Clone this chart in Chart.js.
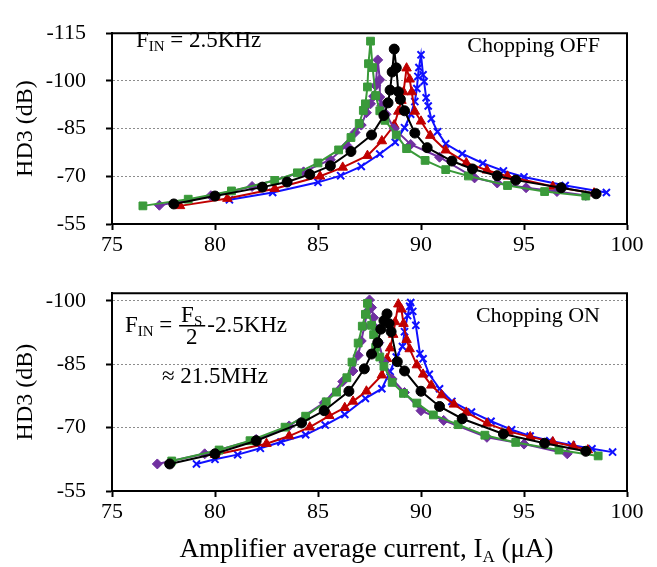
<!DOCTYPE html>
<html lang="en">
<head>
<meta charset="UTF-8">
<title>HD3 vs amplifier current</title>
<script src="https://cdn.jsdelivr.net/npm/chart.js"></script>
<style>
  body { margin: 0; background: #fff; }
  #wrap { position: relative; width: 657px; height: 567px; }
  canvas { position: absolute; left: 0; }
  #offChart { top: 0; }
  #onChart { top: 260px; }
</style>
</head>
<body>
<div id="wrap">
  <canvas id="offChart" width="657" height="260"></canvas>
  <canvas id="onChart" width="657" height="307"></canvas>
</div>
<script>
const SERIF = "'Liberation Serif', 'Times New Roman', serif";

// axis ticks
const currentTicks = [75, 80, 85, 90, 95, 100];
const offHd3Ticks = [-115, -100, -85, -70, -55];
const onHd3Ticks = [-100, -85, -70, -55];

// ---- chopping OFF (F_IN = 2.5 kHz) ----
const offGreenI = [76.5, 78.7, 80.8, 82.9, 84.0, 85.0, 86.0, 86.6, 87.0, 87.2, 87.3, 87.4, 87.45, 87.55, 87.65, 87.8, 88.0, 88.25, 88.8, 89.3, 90.2, 91.2, 92.3, 94.2, 96.0, 98.0];
const offGreenHd3 = [-60.7, -62.8, -65.4, -68.7, -71.1, -74.2, -78.3, -82.2, -86.6, -90.7, -92.8, -98.1, -105.4, -112.5, -104.2, -95.4, -90.6, -87.6, -83.0, -78.7, -75.0, -72.1, -70.1, -67.1, -65.2, -63.8];

const offPurpleI = [77.3, 79.8, 81.8, 84.3, 85.6, 86.4, 86.8, 87.1, 87.35, 87.55, 87.7, 87.8, 87.9, 88.0, 88.0, 88.1, 88.3, 88.7, 89.5, 90.9, 92.6, 93.7, 95.1, 96.6, 98.0];
const offPurpleHd3 = [-60.9, -63.9, -66.8, -71.4, -75.2, -79.7, -83.8, -86.1, -90.0, -92.8, -95.2, -98.5, -106.6, -100.4, -94.9, -92.3, -89.5, -85.0, -80.0, -76.0, -69.5, -67.9, -66.4, -65.2, -64.0];

const offBlackI = [78.0, 80.0, 82.3, 83.5, 84.6, 85.6, 86.6, 87.6, 88.2, 88.4, 88.5, 88.6, 88.7, 88.8, 88.9, 89.0, 89.2, 89.7, 90.3, 91.5, 92.5, 93.7, 94.6, 96.8, 98.5];
const offBlackHd3 = [-61.3, -63.8, -66.6, -68.2, -70.6, -73.3, -77.8, -83.0, -89.1, -93.1, -97.1, -102.8, -110.0, -104.1, -96.6, -94.2, -90.6, -83.6, -79.0, -74.8, -72.3, -70.2, -68.8, -66.4, -64.5];

const offRedI = [78.3, 80.6, 82.9, 85.1, 86.2, 87.4, 88.1, 88.7, 88.9, 89.05, 89.15, 89.3, 89.45, 89.55, 89.7, 90.0, 90.45, 91.2, 92.2, 93.2, 94.2, 96.4, 98.4];
const offRedHd3 = [-60.7, -63.0, -66.1, -70.0, -72.8, -76.5, -81.1, -86.1, -90.4, -93.8, -96.5, -104.0, -100.5, -96.5, -90.4, -87.3, -82.8, -78.2, -74.2, -71.9, -70.0, -66.8, -64.7];

const offBlueI = [80.7, 82.8, 85.0, 86.1, 87.1, 88.0, 88.75, 89.2, 89.5, 89.7, 89.8, 89.85, 89.9, 90.0, 90.1, 90.15, 90.25, 90.35, 90.5, 90.8, 91.2, 92.0, 93.0, 94.0, 95.0, 97.0, 99.0];
const offBlueHd3 = [-62.6, -64.9, -68.1, -70.2, -73.1, -77.0, -80.7, -85.3, -89.5, -93.5, -97.6, -101.4, -104.2, -108.2, -101.9, -99.8, -94.7, -92.1, -88.1, -84.0, -80.2, -77.1, -74.1, -71.7, -69.8, -67.1, -64.9];

// ---- chopping ON (F_IN = Fs/2 - 2.5 kHz) ----
const onGreenI = [77.9, 80.2, 81.7, 83.4, 84.4, 85.4, 85.9, 86.4, 86.65, 86.95, 87.15, 87.3, 87.4, 87.6, 87.7, 87.8, 88.0, 88.2, 88.6, 89.15, 89.8, 90.6, 91.8, 93.1, 94.6, 96.7, 98.6];
const onGreenHd3 = [-62.1, -64.7, -66.9, -70.1, -72.7, -76.1, -78.4, -81.8, -85.5, -90.0, -94.0, -96.8, -99.4, -94.2, -92.0, -89.0, -86.7, -84.5, -80.7, -78.1, -75.8, -73.0, -70.7, -68.2, -66.5, -64.7, -63.3];

const onPurpleI = [77.2, 79.5, 82.0, 83.6, 85.3, 86.2, 86.7, 86.95, 87.1, 87.25, 87.4, 87.5, 87.6, 87.7, 87.8, 87.95, 88.2, 88.6, 89.2, 90.0, 91.1, 93.2, 95.0, 97.1];
const onPurpleHd3 = [-61.4, -63.8, -67.2, -70.4, -75.9, -80.9, -83.4, -87.1, -90.5, -94.0, -97.5, -100.2, -98.4, -96.0, -93.5, -90.1, -85.5, -81.5, -78.3, -74.0, -71.7, -67.7, -66.1, -63.8];

const onBlackI = [77.8, 80.0, 82.0, 84.2, 85.3, 86.5, 87.25, 87.6, 87.9, 88.05, 88.2, 88.35, 88.45, 88.55, 88.85, 89.2, 90.0, 90.9, 92.0, 94.0, 96.0, 98.0];
const onBlackHd3 = [-61.4, -63.8, -66.9, -71.1, -74.0, -78.6, -83.9, -87.4, -90.1, -93.3, -95.3, -96.9, -94.6, -92.7, -85.6, -83.4, -78.6, -75.0, -72.1, -68.5, -66.3, -64.4];

const onRedI = [80.0, 82.5, 83.6, 84.6, 85.55, 86.3, 86.7, 87.35, 88.1, 88.35, 88.5, 88.65, 88.75, 88.9, 89.05, 89.15, 89.3, 89.45, 89.8, 90.1, 90.5, 91.0, 91.6, 92.2, 93.2, 94.25, 95.3, 96.4, 97.4, 98.1];
const onRedHd3 = [-63.6, -66.2, -68.0, -70.1, -72.8, -74.7, -76.2, -78.6, -82.4, -86.3, -88.8, -92.0, -95.0, -99.2, -98.0, -94.6, -90.8, -88.6, -84.8, -82.6, -80.0, -77.7, -75.5, -73.6, -71.0, -69.1, -67.8, -66.6, -65.6, -64.7];

const onBlueI = [79.1, 80.0, 81.1, 82.2, 83.2, 84.4, 85.35, 86.3, 87.3, 88.1, 88.5, 88.8, 89.1, 89.2, 89.35, 89.45, 89.5, 89.6, 89.75, 89.95, 90.1, 90.4, 90.9, 91.5, 92.45, 93.4, 94.4, 95.3, 96.25, 97.3, 98.3, 99.3];
const onBlueHd3 = [-61.4, -62.5, -63.6, -65.1, -66.6, -68.3, -70.6, -73.1, -76.9, -79.2, -83.3, -86.7, -89.2, -92.7, -96.5, -98.7, -99.6, -97.5, -94.2, -87.5, -86.3, -82.6, -79.2, -76.2, -73.7, -71.5, -69.5, -68.0, -66.9, -65.9, -65.0, -64.2];

// marker look per curve
const looks = {
  black:  { color: '#000000', style: 'circle',   radius: 5 },
  green:  { color: '#3a9a3a', style: 'rect',     radius: 5.5 },
  purple: { color: '#7030a0', style: 'rectRot',  radius: 5 },
  red:    { color: '#c00000', style: 'triangle', radius: 5.5 },
  blue:   { color: '#1010ff', style: 'crossRot', radius: 5 }
};

function series(name, xs, ys) {
  const l = looks[name];
  return {
    label: name,
    data: xs.map((x, i) => ({ x: x, y: ys[i] })),
    showLine: true,
    borderColor: l.color,
    backgroundColor: l.color,
    borderWidth: 2,
    pointStyle: l.style,
    pointRadius: l.radius,
    pointBackgroundColor: l.color,
    pointBorderColor: l.color,
    pointBorderWidth: l.style === 'crossRot' ? 2 : 1
  };
}

// draws text pieces left to right; each piece is [text, size, dy]
function drawRuns(ctx, runs, x, y) {
  runs.forEach(([t, size, dy]) => {
    ctx.font = size + 'px ' + SERIF;
    ctx.fillText(t, x, y + (dy || 0));
    x += ctx.measureText(t).width;
  });
  return x;
}
function runsWidth(ctx, runs) {
  let w = 0;
  runs.forEach(([t, size]) => {
    ctx.font = size + 'px ' + SERIF;
    w += ctx.measureText(t).width;
  });
  return w;
}

function frame(chart) {
  const { ctx, chartArea: a } = chart;
  ctx.save();
  ctx.strokeStyle = '#000';
  ctx.lineWidth = 2;
  ctx.beginPath();
  ctx.moveTo(a.left, a.top);
  ctx.lineTo(a.right, a.top);
  ctx.lineTo(a.right, a.bottom);
  ctx.stroke();
  ctx.restore();
}

function makeOptions(ticks, yMin, xHeight) {
  return {
    responsive: false,
    animation: false,
    layout: { padding: { left: 11, top: 0, right: 30, bottom: 0 } },
    plugins: { legend: { display: false }, tooltip: { enabled: false } },
    scales: {
      x: {
        type: 'linear',
        min: 75, max: 100,
        afterBuildTicks: s => { s.ticks = currentTicks.map(v => ({ value: v })); },
        afterFit: s => { s.height = xHeight; },
        ticks: { font: { family: SERIF, size: 22 }, color: '#000', padding: 2, maxRotation: 0, autoSkip: false },
        grid: { drawOnChartArea: false, drawTicks: true, tickLength: 6, tickColor: '#000', tickWidth: 2 },
        border: { display: true, color: '#000', width: 2 }
      },
      y: {
        type: 'linear',
        reverse: true,
        min: yMin, max: -55,
        afterBuildTicks: s => { s.ticks = ticks.map(v => ({ value: v })); },
        afterFit: s => { s.width = 101; },
        ticks: { font: { family: SERIF, size: 22 }, color: '#000', padding: 20, callback: v => String(v) },
        grid: {
          // dotted lines only at the inner ticks
          color: c => (c.tick && c.tick.value > yMin + 1 && c.tick.value < -56) ? '#8c8c8c' : 'rgba(0,0,0,0)',
          lineWidth: 1,
          tickLength: 6, tickColor: '#000', tickWidth: 2, tickBorderDash: []
        },
        border: { display: true, color: '#000', width: 2, dash: [2, 2] },
        title: { display: true, text: 'HD3 (dB)', font: { family: SERIF, size: 24 }, color: '#000', padding: 0 }
      }
    }
  };
}

// top panel: chopping off
const offOpts = makeOptions(offHd3Ticks, -115, 36);
offOpts.layout.padding.top = 14;
new Chart(document.getElementById('offChart'), {
  type: 'scatter',
  data: {
    datasets: [
      series('black', offBlackI, offBlackHd3),
      series('green', offGreenI, offGreenHd3),
      series('purple', offPurpleI, offPurpleHd3),
      series('red', offRedI, offRedHd3),
      series('blue', offBlueI, offBlueHd3)
    ]
  },
  options: offOpts,
  plugins: [{
    id: 'offText',
    afterDraw(chart) {
      const ctx = chart.ctx;
      frame(chart);
      ctx.save();
      ctx.fillStyle = '#000';
      ctx.textBaseline = 'alphabetic';
      drawRuns(ctx, [['F', 23], ['IN', 15, 4], [' = 2.5KHz', 23]], 136, 47);
      const lbl = [['Chopping OFF', 22]];
      drawRuns(ctx, lbl, 600 - runsWidth(ctx, lbl), 52);
      ctx.restore();
    }
  }]
});

// bottom panel: chopping on
const onOpts = makeOptions(onHd3Ticks, -101.8, 76);
onOpts.layout.padding.top = 23;
new Chart(document.getElementById('onChart'), {
  type: 'scatter',
  data: {
    datasets: [
      series('black', onBlackI, onBlackHd3),
      series('green', onGreenI, onGreenHd3),
      series('purple', onPurpleI, onPurpleHd3),
      series('red', onRedI, onRedHd3),
      series('blue', onBlueI, onBlueHd3)
    ]
  },
  options: onOpts,
  plugins: [{
    id: 'onText',
    afterDraw(chart) {
      const ctx = chart.ctx;
      const a = chart.chartArea;
      frame(chart);
      ctx.save();
      ctx.fillStyle = '#000';
      ctx.textBaseline = 'alphabetic';

      // F_IN = Fs/2 - 2.5KHz
      let x = drawRuns(ctx, [['F', 23], ['IN', 15, 4], [' = ', 23]], 125, 72);
      const num = [['F', 23], ['S', 15, 4]];
      const nw = runsWidth(ctx, num);
      drawRuns(ctx, num, x + 3, 62);
      ctx.fillRect(x + 1, 65, nw + 5, 1.5);
      ctx.font = '23px ' + SERIF;
      const dw = ctx.measureText('2').width;
      ctx.fillText('2', x + 3 + (nw - dw) / 2, 84);
      drawRuns(ctx, [['-2.5KHz', 23]], x + nw + 8, 72);

      drawRuns(ctx, [['\u2248 21.5MHz', 23]], 162, 123);

      const lbl = [['Chopping ON', 22]];
      drawRuns(ctx, lbl, 600 - runsWidth(ctx, lbl), 62);

      // x axis title with subscript
      const title = [['Amplifier average current, I', 27], ['A', 17, 5], [' (\u03bcA)', 27]];
      const tw = runsWidth(ctx, title);
      drawRuns(ctx, title, (a.left + a.right) / 2 - tw / 2 - 3, 297);
      ctx.restore();
    }
  }]
});
</script>
</body>
</html>
